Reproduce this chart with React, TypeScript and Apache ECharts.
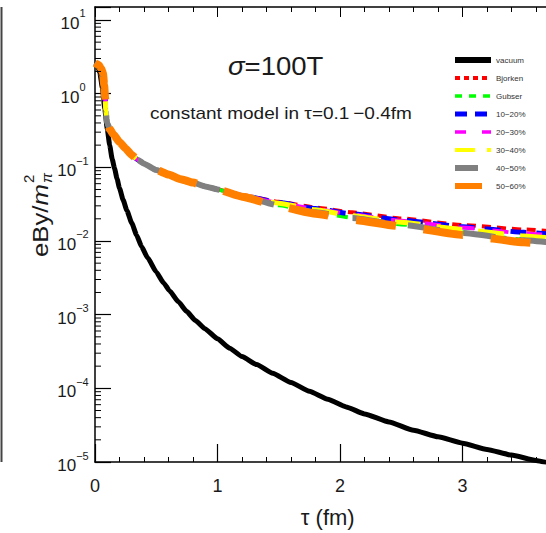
import React, { useEffect, useRef } from "react";
import * as echarts from "echarts";

// ---- data ----
const TAU_VAC = [0, 0.02, 0.04, 0.06, 0.08, 0.1, 0.12, 0.14, 0.16, 0.18, 0.2, 0.23, 0.26, 0.3, 0.34, 0.38, 0.43, 0.5, 0.56, 0.61, 0.68, 0.75, 0.82, 0.9, 1.0, 1.1, 1.2, 1.32, 1.45, 1.6, 1.75, 1.9, 2.05, 2.2, 2.4, 2.6, 2.8, 3.0, 3.2, 3.4, 3.6, 3.8, 4.0];
const VACUUM = [2.6, 2.45, 1.9, 1.2, 0.62, 0.33, 0.2, 0.13, 0.096, 0.07, 0.052, 0.036, 0.026, 0.0175, 0.012, 0.0084, 0.0059, 0.0038, 0.0027, 0.0021, 0.0015, 0.0011, 0.00083, 0.00064, 0.00047, 0.00035, 0.00027, 0.00021, 0.00016, 0.00012, 0.000091, 0.000071, 0.000056, 0.000045, 0.000035, 0.000027, 0.000022, 0.000018, 0.0000148, 0.0000124, 0.0000105, 0.000009, 0.0000078];

const TAU = [0, 0.03, 0.05, 0.065, 0.075, 0.082, 0.088, 0.095, 0.1, 0.12, 0.15, 0.2, 0.25, 0.3, 0.35, 0.4, 0.5, 0.6, 0.7, 0.8, 0.9, 1.0, 1.2, 1.5, 1.8, 2.1, 2.5, 3.0, 3.5, 4.0];
const EARLY = [2.6, 2.45, 2.2, 1.9, 1.3, 0.9, 0.6, 0.45, 0.4, 0.33, 0.28, 0.22, 0.18, 0.147, 0.126, 0.112, 0.092, 0.08, 0.069, 0.062, 0.055, 0.05];
const BJORKEN = [...EARLY, 0.042, 0.034, 0.0285, 0.0245, 0.0202, 0.0165, 0.0143, 0.0125];
const GUBSER = [...EARLY, 0.0405, 0.0305, 0.0247, 0.0207, 0.0168, 0.013, 0.0104, 0.0086];
const C10_20 = [...EARLY, 0.0415, 0.0332, 0.0276, 0.0233, 0.0192, 0.0156, 0.0131, 0.0113];
const C20_30 = [...EARLY, 0.0415, 0.033, 0.0272, 0.0229, 0.0188, 0.0152, 0.0127, 0.0109];
const C30_40 = [...EARLY, 0.041, 0.0325, 0.0265, 0.0221, 0.018, 0.0143, 0.0117, 0.0099];
const C40_50 = [...EARLY, 0.0405, 0.0305, 0.0245, 0.0205, 0.0166, 0.0128, 0.0102, 0.0084];
const C50_60 = [...EARLY, 0.04, 0.0295, 0.0235, 0.0195, 0.0158, 0.0121, 0.0096, 0.0078];

const SERIES_NAMES = ["vacuum", "Bjorken", "Gubser", "10\u221220%", "20\u221230%", "30\u221240%", "40\u221250%", "50\u221260%"];
const X_TICKS = [0, 1, 2, 3];
const Y_DECADES = [-5, -4, -3, -2, -1, 0, 1];

const FONT = "'Liberation Sans', Arial, sans-serif";

export default function App() {
  const ref = useRef<HTMLDivElement>(null);
  useEffect(() => {
    if (!ref.current) return;
    const chart = echarts.init(ref.current, null, { renderer: "svg" });

    const zip = (xs: number[], ys: number[]) => xs.map((x, i) => [x, ys[i]]);
    const styles = [
      { color: "#000000", width: 5, type: "solid" as any, legend: "solid" as any, lw: 6 },
      { color: "#ff0000", width: 4, type: [9, 6], legend: [5, 4], lw: 4 },
      { color: "#00ff00", width: 4, type: [11, 9], legend: [7, 7], lw: 3.5 },
      { color: "#0000ff", width: 5, type: [16, 10], legend: [12, 8], lw: 5 },
      { color: "#ff00ff", width: 4, type: [16, 18], legend: [11, 16], lw: 3.5 },
      { color: "#ffff00", width: 5, type: [26, 16], legend: [20, 12], lw: 4 },
      { color: "#808080", width: 6, type: [32, 24], legend: [23, 20], lw: 6 },
      { color: "#ff8000", width: 8, type: [40, 28], legend: [27, 20], lw: 6 },
    ];
    const datas = [zip(TAU_VAC, VACUUM), zip(TAU, BJORKEN), zip(TAU, GUBSER), zip(TAU, C10_20), zip(TAU, C20_30), zip(TAU, C30_40), zip(TAU, C40_50), zip(TAU, C50_60)];

    // minor ticks of the log axis (2..9 x 10^k)
    const minor: number[][] = [];
    for (let k = -5; k <= 1; k++) {
      for (let m = 2; m <= 9; m++) {
        const v = m * Math.pow(10, k);
        if (v < 15) minor.push([0, v]);
      }
    }

    const lineSeries = SERIES_NAMES.map((name, i) => ({
      name,
      type: "line",
      data: datas[i],
      showSymbol: false,
      symbol: "none",
      smooth: 0.15,
      smoothMonotone: "x",
      lineStyle: { color: styles[i].color, width: styles[i].width, type: styles[i].type, cap: "butt" },
      itemStyle: { color: styles[i].color },
      z: 2 + i,
      clip: true,
    }));

    const option: any = {
      animation: false,
      backgroundColor: "#ffffff",
      grid: { left: 95, right: 39.5, top: 7, bottom: 68, containLabel: false },
      legend: {
        orient: "vertical",
        left: 452,
        top: 56,
        padding: 0,
        itemWidth: 36,
        itemHeight: 8,
        itemGap: 10,
        itemStyle: { opacity: 0, borderWidth: 0 },
        textStyle: { fontSize: 8, color: "#333", fontFamily: FONT },
        data: SERIES_NAMES.map((name, i) => ({
          name,
          itemStyle: { opacity: 0, borderWidth: 0 },
          lineStyle: { width: styles[i].lw, type: styles[i].legend, color: styles[i].color },
        })),
      },
      xAxis: [
        {
          type: "value",
          min: 0,
          max: 3.8,
          interval: 1,
          position: "bottom",
          axisLine: { show: true, onZero: false, lineStyle: { color: "#000", width: 1.5 } },
          axisTick: { inside: true, length: 18, lineStyle: { color: "#000", width: 1.2 } },
          minorTick: { show: true, splitNumber: 5, length: 5, lineStyle: { color: "#000", width: 1 } },
          splitLine: { show: false },
          axisLabel: {
            margin: 15,
            fontSize: 18,
            color: "#1a1a1a",
            fontFamily: FONT,
            showMaxLabel: false,
            formatter: (v: number) => (X_TICKS.includes(v) ? String(v) : ""),
          },
          name: "\u03c4 (fm)",
          nameLocation: "middle",
          nameGap: 44,
          nameTextStyle: { fontSize: 22, color: "#1a1a1a", fontFamily: FONT },
        },
        {
          type: "value",
          min: 0,
          max: 3.8,
          interval: 1,
          position: "top",
          axisLine: { show: true, onZero: false, lineStyle: { color: "#000", width: 1.5 } },
          axisTick: { inside: true, length: 10, lineStyle: { color: "#000", width: 1 } },
          minorTick: { show: true, splitNumber: 5, length: 5, lineStyle: { color: "#000", width: 1 } },
          splitLine: { show: false },
          axisLabel: { show: false },
        },
      ],
      yAxis: {
        type: "log",
        logBase: 10,
        min: 1e-5,
        max: 15,
        axisLine: { show: true, onZero: false, lineStyle: { color: "#000", width: 1.5 } },
        axisTick: { inside: true, length: 16, lineStyle: { color: "#000", width: 1.2 } },
        splitLine: { show: false },
        axisLabel: {
          align: "center",
          margin: 22,
          color: "#1a1a1a",
          formatter: (v: number) => {
            const e = Math.log10(v);
            const r = Math.round(e);
            if (Math.abs(e - r) > 1e-6 || !Y_DECADES.includes(r)) return "";
            const s = r < 0 ? "\u2212" + Math.abs(r) : String(r);
            return "{b|10}{s|" + s + "}";
          },
          rich: {
            b: { fontSize: 17, fontFamily: FONT, color: "#1a1a1a", lineHeight: 24, verticalAlign: "bottom" },
            s: { fontSize: 11, fontFamily: FONT, color: "#1a1a1a", lineHeight: 12, verticalAlign: "top" },
          },
        },
      },
      series: [
        ...lineSeries,
        {
          type: "custom",
          silent: true,
          data: minor,
          z: 20,
          renderItem: (params: any, api: any) => {
            const p = api.coord([0, api.value(1)]);
            return {
              type: "line",
              shape: { x1: p[0], y1: p[1], x2: p[0] + 6, y2: p[1] },
              style: { stroke: "#000", lineWidth: 1 },
            };
          },
        },
      ],
      graphic: [
        // edge of the neighbouring panel
        { type: "line", shape: { x1: 1.5, y1: 7, x2: 1.5, y2: 462 }, style: { stroke: "#444", lineWidth: 2 }, silent: true },
        {
          type: "text",
          x: 228,
          y: 66,
          scaleX: 1.1,
          style: {
            text: "{s|\u03c3}{n|=100T}",
            verticalAlign: "middle",
            align: "left",
            rich: {
              s: { fontSize: 25, fontStyle: "italic", fontFamily: FONT, fill: "#1a1a1a" },
              n: { fontSize: 25, fontFamily: FONT, fill: "#1a1a1a" },
            },
          },
        },
        {
          type: "text",
          x: 150,
          y: 113,
          scaleX: 1.12,
          style: { text: "constant model in \u03c4=0.1\u2009\u22120.4fm", fontSize: 17, fontFamily: FONT, fill: "#1a1a1a", verticalAlign: "middle", align: "left" },
        },
        {
          type: "text",
          x: 51,
          y: 257,
          rotation: Math.PI / 2,
          scaleX: 1.12,
          style: {
            text: "{a|eBy/}{m|m}",
            verticalAlign: "bottom",
            align: "left",
            rich: {
              a: { fontSize: 23, fontFamily: FONT, fill: "#1a1a1a" },
              m: { fontSize: 23, fontStyle: "italic", fontFamily: FONT, fill: "#1a1a1a" },
            },
          },
        },
        {
          type: "text",
          x: 46,
          y: 183,
          rotation: Math.PI / 2,
          style: { text: "\u03c0", fontSize: 15, fontStyle: "italic", fontFamily: FONT, fill: "#1a1a1a", verticalAlign: "middle", align: "left" },
        },
        {
          type: "text",
          x: 28,
          y: 183,
          rotation: Math.PI / 2,
          style: { text: "2", fontSize: 15, fontFamily: FONT, fill: "#1a1a1a", verticalAlign: "middle", align: "left" },
        },
      ],
    };
    chart.setOption(option);
    return () => chart.dispose();
  }, []);
  return <div ref={ref} style={{ position: "fixed", left: 0, top: 0, width: 600, height: 533 }} />;
}
